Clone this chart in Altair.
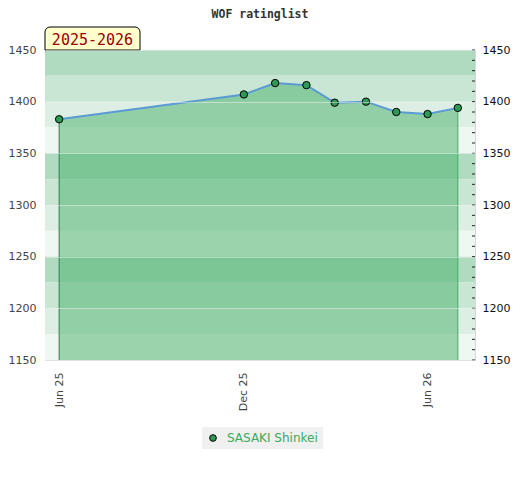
import altair as alt
import pandas as pd

# ---- data ----
player = "SASAKI Shinkei"
dates = ["2025-06-01", "2025-12-01", "2026-01-01", "2026-02-01", "2026-03-01",
         "2026-04-01", "2026-05-01", "2026-06-01", "2026-07-01"]
ratings = [1383, 1407, 1418, 1416, 1399, 1400, 1390, 1388, 1394]

y_labels = [1150, 1200, 1250, 1300, 1350, 1400, 1450]
minor_ticks = list(range(1150, 1451, 10))
band_lo = [1425, 1400, 1375, 1350, 1325, 1300, 1275, 1250, 1225, 1200, 1175, 1150]
band_col = ["#b0dbc0", "#c9e6d4", "#ddefe4", "#eef7f1"] * 3
season = "2025-2026"

df = pd.DataFrame({"date": dates, "rating": ratings, "player": player})
ends = pd.DataFrame({"date": [dates[0], dates[-1]], "rating": [ratings[0], ratings[-1]],
                     "col": ["#2a7f4b", "#3cb15f"]})
bands = pd.DataFrame({"lo": band_lo, "hi": [b + 25 for b in band_lo], "col": band_col})
ticks = pd.DataFrame({"t": minor_ticks})

W, H = 430, 310
ydom = [1150, 1450]
yscale = alt.Scale(domain=ydom, zero=False, nice=False)
xscale = alt.Scale(type="utc", domain=[alt.DateTime(year=2025, month=5, date=18, utc=True),
                                       alt.DateTime(year=2026, month=7, date=18, utc=True)])
xaxis = alt.Axis(
    values=[alt.DateTime(year=2025, month=6, date=1, utc=True),
            alt.DateTime(year=2025, month=12, date=1, utc=True),
            alt.DateTime(year=2026, month=6, date=1, utc=True)],
    labelExpr="utcFormat(datum.value, '%b %y')", labelAngle=270, labelAlign="right",
    labelBaseline="middle", ticks=False, domain=False, labelPadding=12,
    labelColor="#444", grid=False, title=None)
X = alt.X("date:T", scale=xscale, axis=xaxis)
Y = alt.Y("rating:Q", scale=yscale, axis=None)

band_layer = alt.Chart(bands).mark_rect().encode(
    x=alt.value(0), x2=alt.value(W),
    y=alt.Y("lo:Q", scale=yscale, axis=alt.Axis(
        orient="left", values=y_labels, format="d", ticks=False, domain=False, labelColor="#444",
        labelPadding=9, grid=True, gridColor="#eeeeee", gridOpacity=0.5, zindex=1, title=None)),
    y2="hi:Q",
    color=alt.Color("col:N", scale=None),
)

area = alt.Chart(df).mark_area(color="#48af69", opacity=0.5).encode(
    x=X, y=Y, y2=alt.datum(1150),
)

rules = alt.Chart(ends).mark_rule(strokeWidth=1).encode(
    x=X, y=Y, y2=alt.datum(1150),
    color=alt.Color("col:N", scale=None),
)

line = alt.Chart(df).mark_line(color="#5b9bd5", strokeWidth=2).encode(x=X, y=Y)

points = alt.Chart(df).mark_point(filled=True, size=55, stroke="black", strokeWidth=1, opacity=1).encode(
    x=X, y=Y,
    color=alt.Color("player:N", scale=alt.Scale(domain=[player], range=["#2e9a55"]),
                    legend=alt.Legend(orient="none", legendX=157, legendY=377, title=None,
                                      fillColor="#f0f0f0", padding=5, labelColor="#3aaa5c",
                                      labelFontSize=12, labelFont="DejaVu Sans", labelOffset=8,
                                      symbolType="circle", symbolSize=45,
                                      symbolStrokeColor="black", symbolStrokeWidth=1)),
)

tick_layer = alt.Chart(ticks).mark_rule(color="#222", strokeWidth=1).encode(
    x=alt.value(W - 3), x2=alt.value(W),
    y=alt.Y("t:Q", scale=yscale, axis=alt.Axis(
        orient="right", values=y_labels, format="d", ticks=False, domain=False, labelColor="#111",
        labelPadding=7, grid=False, title=None)),
)

box = alt.Chart(alt.Data(values=[{"s": season}])).mark_rect(
    fill="#ffffcc", stroke="black", strokeWidth=1,
    cornerRadiusTopLeft=5, cornerRadiusTopRight=5,
).encode(x=alt.value(0), x2=alt.value(95), y=alt.value(-23), y2=alt.value(0))

box_text = alt.Chart(alt.Data(values=[{"s": season}])).mark_text(
    font="DejaVu Sans Mono", fontSize=15, color="#990000", align="center", baseline="alphabetic",
).encode(x=alt.value(47.5), y=alt.value(-5), text="s:N")

chart = alt.layer(band_layer, area, rules, line, points, tick_layer, box, box_text).resolve_axis(
    y="independent"
).properties(
    width=W, height=H,
    title=alt.Title("WOF ratinglist", font="DejaVu Sans Mono", fontSize=11.5, fontWeight="bold",
                    color="#333", anchor="middle", offset=6),
    autosize=alt.AutoSizeParams(type="none"),
    padding={"left": 37, "top": 42, "right": 37, "bottom": 110},
).configure_view(stroke="#d6d6d6").configure_axis(
    labelFont="DejaVu Sans", labelFontSize=11
)

chart.save("out.html", embed_options={"renderer": "svg", "actions": False})
